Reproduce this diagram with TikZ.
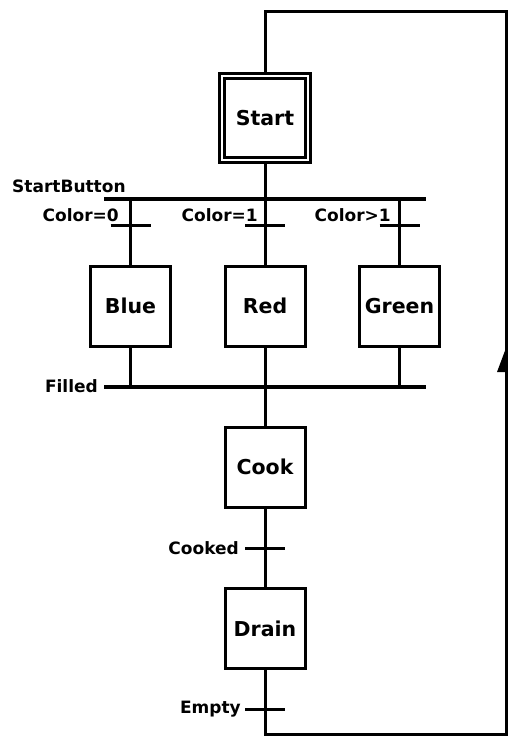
\documentclass[tikz,border=0pt]{standalone}
\usepackage{fontspec}
\setmainfont{DejaVu Sans}
\begin{document}
\begin{tikzpicture}[x=1pt,y=-1pt,
  ln/.style={line width=3pt},
  barline/.style={line width=4.5pt},
  stepbox/.style={draw,line width=3pt,minimum width=80pt,minimum height=80pt,inner sep=0pt,outer sep=0pt,font=\bfseries\fontsize{20.5}{24}\selectfont},
  lbl/.style={inner sep=0pt,font=\bfseries\fontsize{17}{20}\selectfont},
]
\useasboundingbox[fill=white] (0,0) rectangle (509,736);

% steps
\node[stepbox,line width=2.6pt,minimum width=91pt,minimum height=89pt] (start) at (265,118) {Start};
\draw[line width=2.6pt] ([shift={(5pt,-5pt)}]start.north west) rectangle ([shift={(-5pt,5pt)}]start.south east);
\node[stepbox] (blue) at (130.5,306) {Blue};
\node[stepbox] (red) at (265,306) {Red};
\node[stepbox] (green) at (399.5,306) {Green};
\node[stepbox] (cook) at (265,467) {Cook};
\node[stepbox] (drain) at (265,628.5) {Drain};

% coordinates
\coordinate (sbar) at (265,199);
\coordinate (sbarL) at (104,199);
\coordinate (sbarR) at (426,199);
\coordinate (fbar) at (265,387);
\coordinate (fbarL) at (104,387);
\coordinate (fbarR) at (426,387);
\coordinate (t0) at (130.5,225);
\coordinate (t1) at (265,225);
\coordinate (t2) at (399.5,225);
\coordinate (tcook) at (265,548);
\coordinate (tempty) at (265,709);
\coordinate (lb) at (265,734);
\coordinate (rb) at (506,734);
\coordinate (rt) at (506,11);
\coordinate (lt) at (265,11);

% connectors
\draw[ln] (start.south) -- (sbar);
\draw[barline] (sbarL) -- (sbarR);
\foreach \n in {blue,red,green}{
  \draw[ln] (\n.north) -- (\n.north |- sbar);
  \draw[ln] (\n.south) -- (\n.south |- fbar);
}
\foreach \t in {t0,t1,t2,tcook,tempty}{
  \draw[ln] ([xshift=-20pt]\t) -- ([xshift=20pt]\t);
}
\draw[barline] (fbarL) -- (fbarR);
\draw[ln] (fbar) -- (cook.north);
\draw[ln] (cook.south) -- (drain.north);
\draw[ln] (drain.south) -- (lb) -- (rb) -- (rt) -- (lt) -- (start.north);
\fill (506,348) -- (497,372) -- (506,372) -- cycle;

% labels
\node[lbl,anchor=base west] (lsb) at (12,192) {StartButton};
\node[lbl,anchor=base east] (lc0) at (119,221) {Color=0};
\node[lbl,anchor=base east] (lc1) at (258,221) {Color=1};
\node[lbl,anchor=base east] (lc2) at (391,221) {Color>1};
\node[lbl,anchor=base east] (lf) at (98,392) {Filled};
\node[lbl,anchor=base east] (lck) at (239,554) {Cooked};
\node[lbl,anchor=base east] (le) at (241,713) {Empty};
\end{tikzpicture}
\end{document}
